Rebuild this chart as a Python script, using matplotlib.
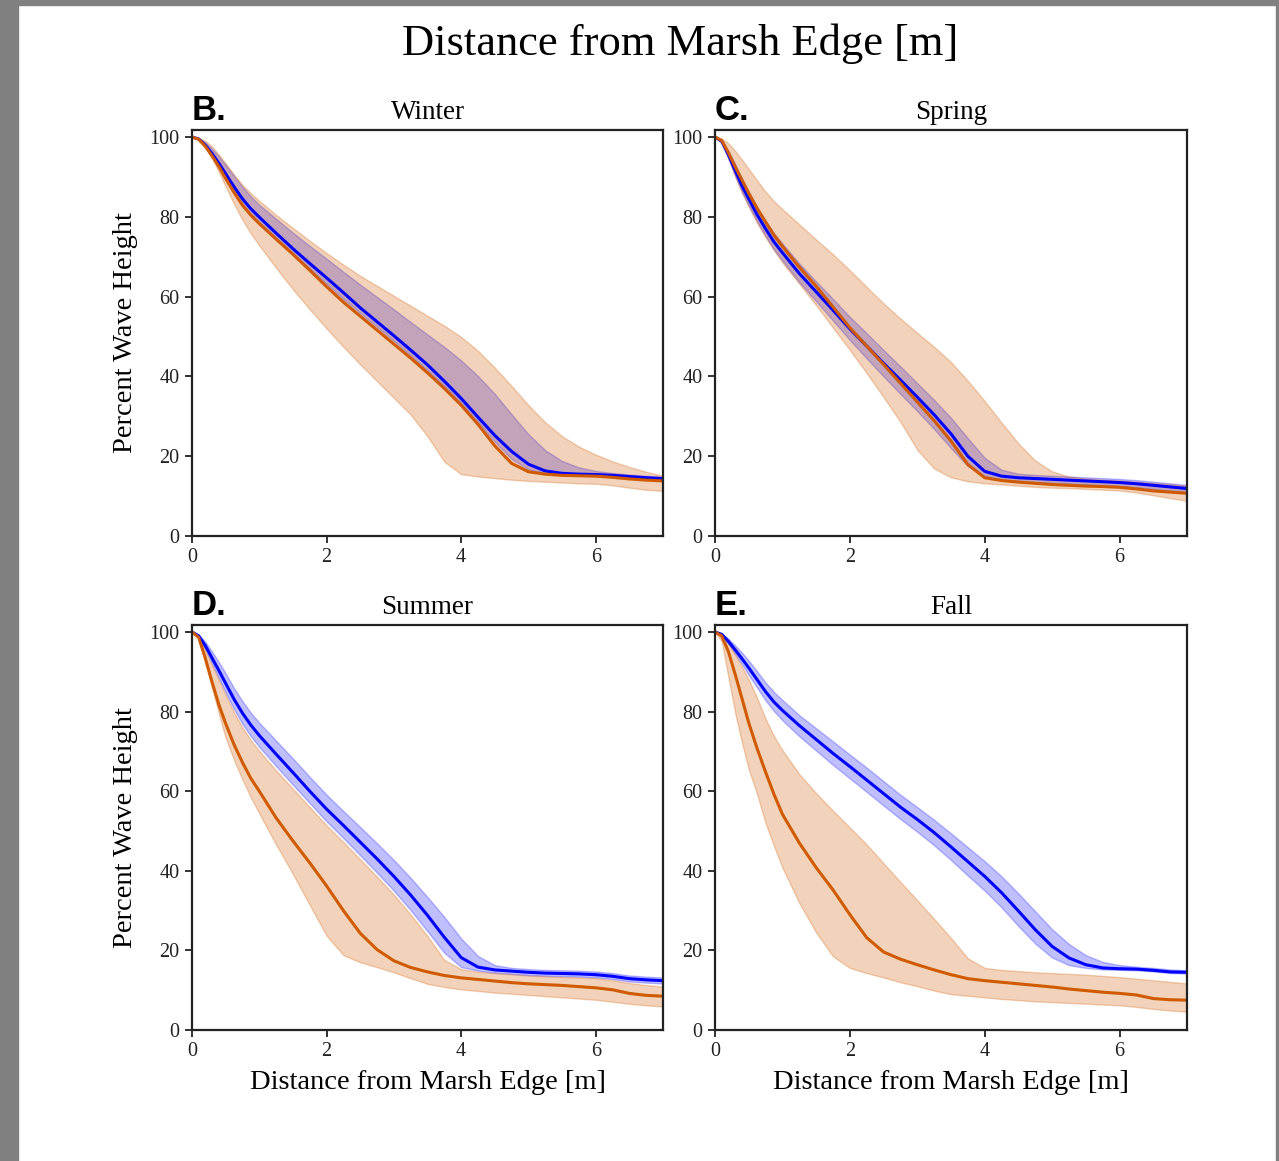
import matplotlib
matplotlib.use("Agg")
import matplotlib.pyplot as plt
from matplotlib.patches import Rectangle

plt.rcParams['font.family'] = ['Liberation Serif', 'DejaVu Serif']

# distance from marsh edge [m], shared by every curve
dist = [0, 0.1, 0.2, 0.3, 0.4, 0.5, 0.625, 0.75, 0.875, 1, 1.25, 1.5, 1.75, 2, 2.25, 2.5,
        2.75, 3, 3.25, 3.5, 3.75, 4, 4.25, 4.5, 4.75, 5, 5.25, 5.5, 5.75, 6, 6.25, 6.5, 6.75, 7]

# Winter
winter_blue = [100, 99.5, 97.9, 95.8, 93.4, 90.8, 87.5, 84.5, 82, 79.9, 75.9, 72, 68.3, 64.7, 61, 57.2,
               53.7, 50.2, 46.6, 42.9, 38.8, 34.5, 29.8, 25.2, 21.2, 18, 16.3, 15.7, 15.5, 15.4, 15.2, 14.9, 14.6, 14.4]
winter_blue_hi = [100, 99.7, 98.6, 97, 95.1, 93, 90.2, 87.5, 85.1, 83, 79.5, 76, 72.7, 69.5, 66.2, 63,
                  59.9, 56.8, 53.6, 50.5, 47.4, 44, 40.1, 35.6, 30.5, 25.5, 21.5, 18.8, 17.2, 16.3, 15.8, 15.4, 15.1, 14.8]
winter_blue_lo = [100, 99.4, 97.5, 95, 92.3, 89.5, 86, 82.9, 80.5, 78.5, 74.7, 70.9, 67, 63.2, 59.4, 55.9,
                  52.4, 48.9, 45.3, 41.5, 37.6, 33.4, 28.7, 23.6, 19.3, 16.7, 15.7, 15.3, 15.1, 15, 14.8, 14.5, 14.2, 14]
winter_orng = [100, 99.4, 97.6, 95.2, 92.6, 89.6, 86.1, 82.9, 80.4, 78.3, 74.4, 70.6, 66.6, 62.5, 58.6, 55.1,
               51.6, 48.1, 44.6, 40.9, 37, 32.8, 28, 22.6, 18.2, 16.1, 15.5, 15.2, 15.1, 15, 14.7, 14.3, 14, 13.8]
winter_orng_hi = [100, 99.8, 99, 97.6, 95.6, 93.4, 90.6, 88, 85.9, 84, 80.5, 77.2, 74, 70.9, 68, 65.2,
                  62.7, 60.2, 57.7, 55.2, 52.7, 49.9, 46.4, 42.2, 37.6, 32.8, 28.5, 25, 22.4, 20.4, 18.7, 17.3, 16.1, 15.1]
winter_orng_lo = [100, 99.3, 97.4, 94.6, 91.2, 87.6, 83.2, 79.2, 75.8, 72.8, 67.2, 61.8, 56.8, 52, 47.4, 43,
                  38.8, 34.6, 30.4, 25, 18.6, 15.5, 14.9, 14.5, 14.1, 13.8, 13.6, 13.4, 13.2, 13.1, 12.7, 12.1, 11.6, 11.3]

# Spring
spring_blue = [100, 98.9, 95.5, 91.6, 87.8, 84.5, 80.5, 77, 73.7, 71, 65.8, 61.2, 56.6, 51.9, 47.6, 43.3,
               39.1, 34.8, 30.4, 25.6, 20, 16.2, 15, 14.6, 14.4, 14.2, 14, 13.8, 13.6, 13.4, 13.1, 12.7, 12.3, 11.9]
spring_blue_hi = [100, 99.2, 96.5, 93.2, 89.6, 86.3, 82.4, 79, 75.9, 73.3, 68.3, 63.8, 59.4, 54.9, 50.8, 46.6,
                  42.5, 38.3, 34.1, 29.6, 24.5, 19.6, 16.6, 15.6, 15.3, 15.1, 14.9, 14.7, 14.5, 14.3, 14, 13.6, 13.2, 12.8]
spring_blue_lo = [100, 98.6, 94.6, 90.2, 86.2, 82.8, 78.8, 75.2, 71.8, 69, 63.6, 58.8, 54, 49.1, 44.5, 40,
                  35.6, 31.3, 26.8, 22, 17.5, 15, 14.2, 13.8, 13.5, 13.3, 13.1, 12.9, 12.7, 12.5, 12.2, 11.8, 11.4, 11]
spring_orng = [100, 99.1, 96, 92.5, 89.2, 85.9, 82.1, 78.7, 75.4, 72.6, 67.4, 62.6, 57.4, 52.2, 47.6, 43,
               38.3, 33.6, 28.9, 23.8, 17.9, 14.6, 13.9, 13.5, 13.2, 12.9, 12.7, 12.5, 12.4, 12.2, 11.8, 11.3, 11, 10.7]
spring_orng_hi = [100, 99.6, 98.4, 96.5, 94.3, 92, 89.1, 86.3, 83.9, 81.9, 78.1, 74.3, 70.6, 66.6, 62.4, 58.3,
                  54.5, 50.9, 47.4, 43.6, 38.9, 33.8, 28.4, 23.2, 18.9, 16.2, 14.9, 14.4, 14.1, 13.9, 13.6, 13.3, 13, 12.6]
spring_orng_lo = [100, 98.6, 94.5, 90, 86, 82.5, 78.4, 74.8, 71.6, 68.5, 63.2, 57.8, 52.2, 46.6, 40.8, 34.8,
                  28.6, 21.6, 16.9, 14.7, 13.7, 13.2, 12.9, 12.6, 12.3, 12.1, 12, 11.8, 11.6, 11.4, 10.9, 10.2, 9.5, 8.8]

# Summer
summer_blue = [100, 99, 96.5, 93.4, 90.3, 87.1, 83.1, 79.6, 76.6, 74, 69.3, 64.7, 60, 55.5, 51.4, 47.2,
               43, 38.6, 33.9, 28.8, 23.3, 18.2, 15.8, 15.1, 14.8, 14.5, 14.3, 14.2, 14.1, 13.9, 13.5, 12.9, 12.6, 12.4]
summer_blue_hi = [100, 99.3, 97.5, 95, 92.4, 89.6, 85.9, 82.6, 79.7, 77.2, 72.7, 68.2, 63.6, 59.1, 55, 51,
                  46.9, 42.7, 38.2, 33.4, 28.4, 23, 18.6, 16.3, 15.6, 15.3, 15.1, 15, 14.9, 14.7, 14.3, 13.7, 13.4, 13.2]
summer_blue_lo = [100, 98.7, 95.6, 92, 88.4, 84.8, 80.6, 76.9, 73.8, 71.1, 66.3, 61.6, 57, 52.4, 48.2, 43.9,
                  39.5, 35, 30.1, 24.8, 19.4, 15.8, 14.9, 14.4, 14.1, 13.8, 13.6, 13.5, 13.4, 13.2, 12.8, 12.2, 11.9, 11.7]
summer_orng = [100, 98.6, 93.3, 87.3, 81.7, 77, 71.7, 67.2, 63.2, 60, 53.3, 47.5, 42, 36.2, 30, 24.3,
               20.2, 17.4, 15.7, 14.6, 13.7, 13.1, 12.7, 12.3, 11.9, 11.6, 11.4, 11.2, 10.9, 10.6, 10.1, 9.2, 8.7, 8.5]
summer_orng_hi = [100, 98.6, 95.3, 91.6, 87.9, 84.2, 79.8, 76, 72.8, 70.1, 65.2, 60.6, 56, 51.4, 47.2, 42.9,
                  38.5, 34, 29, 23.6, 17.6, 15.3, 14.6, 14.3, 14, 13.7, 13.5, 13.3, 13.2, 13, 12.5, 11.8, 11.3, 10.9]
summer_orng_lo = [100, 98.5, 92, 85.8, 79.4, 73.4, 67.8, 62.9, 58.4, 54.4, 46.6, 39.2, 31.4, 23.7, 18.8, 17,
                  15.8, 14.5, 13, 11.6, 10.8, 10.2, 9.8, 9.4, 9.1, 8.8, 8.5, 8.2, 7.9, 7.6, 7.1, 6.6, 6.2, 5.9]

# Fall
fall_blue = [100, 99.4, 97.6, 95.5, 93.3, 91, 88, 85, 82.4, 80.3, 76.5, 73, 69.5, 66.2, 62.8, 59.4,
             56, 52.9, 49.6, 46, 42.3, 38.6, 34.5, 29.9, 25.2, 21, 18.1, 16.4, 15.6, 15.4, 15.3, 15, 14.6, 14.5]
fall_blue_hi = [100, 99.6, 98.3, 96.6, 94.8, 92.8, 90.1, 87.3, 84.9, 82.9, 79.1, 75.8, 72.5, 69.2, 65.9, 62.5,
                59.1, 56, 52.8, 49.4, 45.9, 42.4, 38.6, 34.3, 29.8, 25.3, 21.6, 18.8, 17.1, 16.3, 15.9, 15.6, 15.2, 15]
fall_blue_lo = [100, 99.2, 97, 94.5, 91.9, 89.2, 86, 82.8, 80.1, 77.8, 73.8, 70.2, 66.6, 63.2, 59.8, 56.4,
                53, 49.8, 46.4, 42.7, 38.8, 35, 30.8, 26.1, 21.7, 18.2, 16.3, 15.6, 15.2, 15.1, 15, 14.7, 14.3, 14.2]
fall_orng = [100, 99, 95, 89.3, 83.3, 77.2, 70.7, 64.8, 59.2, 54.2, 47, 40.8, 35.2, 29, 23.2, 19.6,
             17.8, 16.4, 15.1, 13.9, 12.9, 12.4, 12, 11.6, 11.2, 10.8, 10.3, 9.9, 9.5, 9.2, 8.8, 7.9, 7.6, 7.5]
fall_orng_hi = [100, 99, 97, 94.3, 91.3, 88.1, 83.4, 78.2, 73.8, 70.3, 64.3, 59.5, 55.1, 50.9, 46.6, 41.9,
                37.2, 32.6, 27.9, 23.1, 18, 15.6, 15.1, 14.8, 14.5, 14.3, 14.1, 13.9, 13.6, 13.3, 12.9, 12.5, 12.1, 11.7]
fall_orng_lo = [100, 97.6, 88.5, 79.6, 72.2, 65.5, 59.2, 52, 46.2, 40.8, 31.9, 24.5, 18.5, 15.6, 14.3, 13.2,
                12, 11, 9.9, 9, 8.6, 8.2, 7.8, 7.5, 7.2, 7, 6.8, 6.6, 6.4, 6.2, 5.8, 5.3, 4.9, 4.6]

seasons = ["Winter", "Spring", "Summer", "Fall"]
letters = ["B.", "C.", "D.", "E."]
xticks = [0, 2, 4, 6]
yticks = [0, 20, 40, 60, 80, 100]

panels = [
    (winter_blue, winter_blue_lo, winter_blue_hi, winter_orng, winter_orng_lo, winter_orng_hi),
    (spring_blue, spring_blue_lo, spring_blue_hi, spring_orng, spring_orng_lo, spring_orng_hi),
    (summer_blue, summer_blue_lo, summer_blue_hi, summer_orng, summer_orng_lo, summer_orng_hi),
    (fall_blue, fall_blue_lo, fall_blue_hi, fall_orng, fall_orng_lo, fall_orng_hi),
]

BLUE = "#0000ff"
ORANGE = "#d05a00"
W, H = 1279, 1161

fig = plt.figure(figsize=(W / 100, H / 100), dpi=100)
fig.patch.set_facecolor("white")

# grey border of the screenshot
for (x0, y0, w, h) in [(0, 0, 18, H), (0, 0, W, 5), (W - 3, 0, 3, H)]:
    fig.patches.append(Rectangle((x0 / W, 1 - (y0 + h) / H), w / W, h / H,
                                 transform=fig.transFigure, color="#808080", zorder=-5))

# axes boxes in pixels: left, top, right, bottom
boxes = [(192, 130, 663, 536), (715, 130, 1187, 536),
         (192, 625, 663, 1030), (715, 625, 1187, 1030)]

for i, (box, data) in enumerate(zip(boxes, panels)):
    l, t, r, b = box
    ax = fig.add_axes([l / W, 1 - b / H, (r - l) / W, (b - t) / H])
    bm, bl, bh, om, ol, oh = data

    ax.fill_between(dist, bl, bh, color=BLUE, alpha=0.25, lw=1)
    ax.fill_between(dist, ol, oh, color=ORANGE, alpha=0.27, lw=1)
    ax.plot(dist, bm, color=BLUE, lw=2.2)
    ax.plot(dist, om, color=ORANGE, lw=2.2)

    ax.set_xlim(0, 7)
    ax.set_ylim(0, 101.75)
    ax.set_xticks(xticks)
    ax.set_yticks(yticks)
    ax.tick_params(direction="out", length=5, width=1.3, labelsize=14.5,
                   colors="#222222", pad=4)
    for sp in ax.spines.values():
        sp.set_linewidth(1.6)
        sp.set_color("#222222")

    ax.set_title(seasons[i], fontsize=19.5, pad=8)
    ax.text(0, 1.008, letters[i], transform=ax.transAxes, ha="left", va="bottom",
            fontsize=25, fontweight="bold", family=["Liberation Sans", "DejaVu Sans"])
    if i % 2 == 0:
        ax.set_ylabel("Percent Wave Height", fontsize=20.5, labelpad=8)
    if i >= 2:
        ax.set_xlabel("Distance from Marsh Edge [m]", fontsize=20.5, labelpad=6)

fig.text(680 / W, 1 - 44 / H, "Distance from Marsh Edge [m]", fontsize=32,
         ha="center", va="center")

fig.savefig("out.png", dpi=100)
